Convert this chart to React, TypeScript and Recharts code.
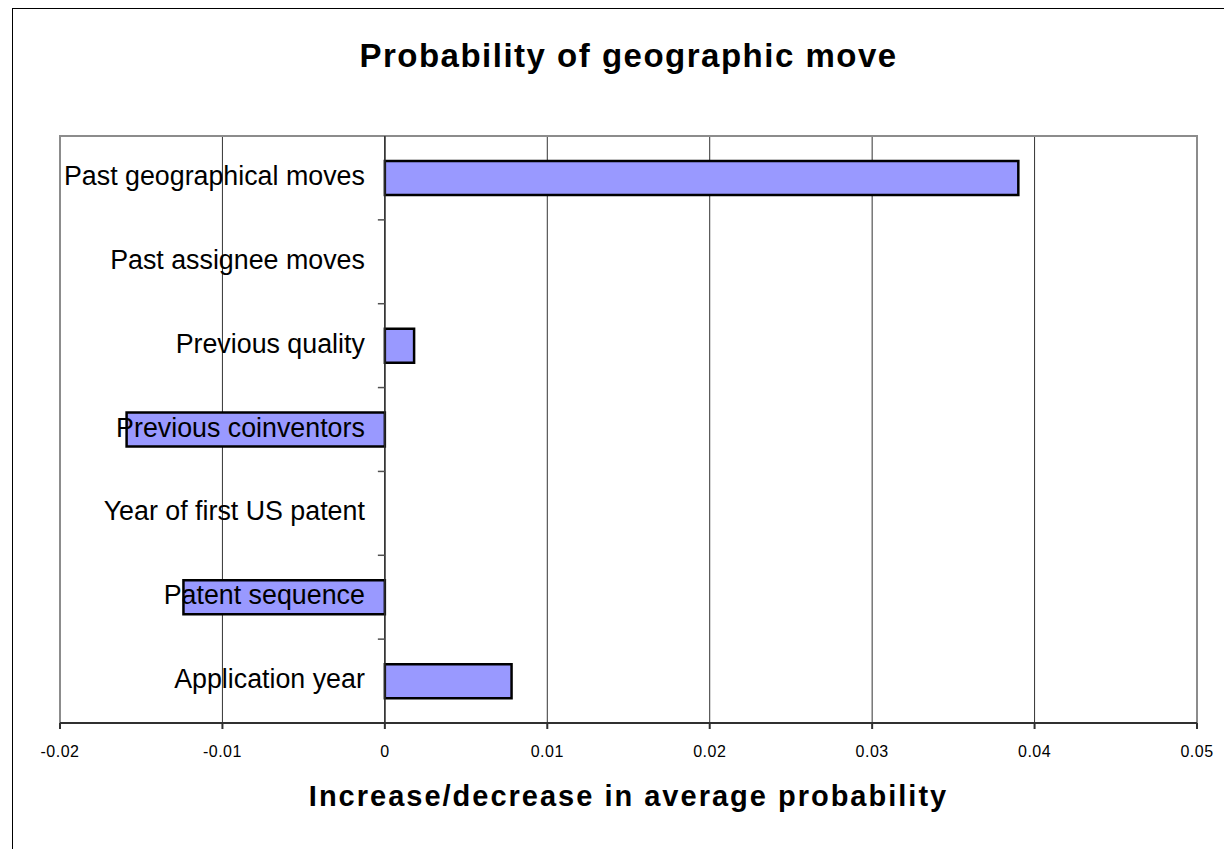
import React from 'react';
import {
    BarChart,
    Bar,
    XAxis,
    YAxis,
    CartesianGrid,
    ReferenceLine,
    ReferenceArea,
    Label,
} from 'recharts';

const categories = [
    'Past geographical moves',
    'Past assignee moves',
    'Previous quality',
    'Previous coinventors',
    'Year of first US patent',
    'Patent sequence',
    'Application year',
];
const changes = [0.039, 0, 0.0018, -0.0159, 0, -0.0124, 0.0078];
const xTicks = [-0.02, -0.01, 0, 0.01, 0.02, 0.03, 0.04, 0.05];

const data = categories.map((name, i) => ({ name, value: changes[i] }));

const FONT = "'Liberation Sans', Arial, sans-serif";
const CHART_W = 1211;
const CHART_H = 840;
const Y_AXIS_W = 1;
const MARGIN = { top: 127, right: 27, left: 46, bottom: 0 };
const X_AXIS_H = 126;
const X_MIN = xTicks[0];
const X_MAX = xTicks[xTicks.length - 1];

const plotLeft = MARGIN.left + Y_AXIS_W;
const plotW = CHART_W - plotLeft - MARGIN.right;
const plotH = CHART_H - MARGIN.top - MARGIN.bottom - X_AXIS_H;
const zeroX = plotLeft + ((0 - X_MIN) / (X_MAX - X_MIN)) * plotW;
const band = plotH / categories.length;

// category labels sit left of the zero line, like Excel does it
const renderCategoryTick = (props: any) => {
    const { y, payload, index } = props;
    return (
        <g key={`cat-${index}`}>
            <text
                x={zeroX - 20}
                y={y + 7}
                textAnchor="end"
                fontSize={26.8}
                fontFamily={FONT}
                fill="#000"
            >
                {payload.value}
            </text>
            {index < categories.length - 1 && (
                <line
                    x1={zeroX - 7}
                    x2={zeroX}
                    y1={y + band / 2}
                    y2={y + band / 2}
                    stroke="#505050"
                    strokeWidth={1.5}
                />
            )}
        </g>
    );
};

export default function App() {
    return (
        <div
            style={{
                position: 'fixed',
                left: 12,
                top: 8,
                width: 1212,
                height: 841,
                borderLeft: '1px solid #000',
                borderTop: '1px solid #000',
                boxSizing: 'border-box',
                background: '#fff',
            }}
        >
            <div
                style={{
                    position: 'absolute',
                    left: plotLeft,
                    top: 30,
                    width: plotW,
                    textAlign: 'center',
                    fontFamily: FONT,
                    fontWeight: 'bold',
                    fontSize: 33,
                    lineHeight: '33px',
                    letterSpacing: 1.5,
                    color: '#000',
                }}
            >
                Probability of geographic move
            </div>
            <div style={{ position: 'absolute', left: 0, top: 0 }}>
                <BarChart
                    width={CHART_W}
                    height={CHART_H}
                    data={data}
                    layout="vertical"
                    margin={MARGIN}
                >
                    <CartesianGrid horizontal={false} stroke="#333333" strokeWidth={1} />
                    <XAxis
                        type="number"
                        domain={[X_MIN, X_MAX]}
                        ticks={xTicks}
                        interval={0}
                        height={X_AXIS_H}
                        stroke="#303030"
                        strokeWidth={2}
                        tickSize={6}
                        tickMargin={17}
                        tick={{ fontSize: 16, fill: '#000', fontFamily: FONT, letterSpacing: 0.5 }}
                    >
                        <Label
                            value="Increase/decrease in average probability"
                            position="insideBottom"
                            offset={43}
                            fontSize={29}
                            fontWeight="bold"
                            fontFamily={FONT}
                            fill="#000"
                            letterSpacing={2}
                        />
                    </XAxis>
                    <YAxis
                        type="category"
                        dataKey="name"
                        width={Y_AXIS_W}
                        axisLine={false}
                        tickLine={false}
                        interval={0}
                        tick={renderCategoryTick}
                    />
                    <ReferenceArea
                        x1={X_MIN}
                        x2={X_MAX}
                        fill="none"
                        stroke="#8c8c8c"
                        strokeWidth={2}
                    />
                    <Bar
                        dataKey="value"
                        fill="#9999FF"
                        stroke="#000"
                        strokeWidth={2.5}
                        barSize={34}
                        isAnimationActive={false}
                    />
                    <ReferenceLine x={0} stroke="#303030" strokeWidth={1.5} />
                </BarChart>
            </div>
        </div>
    );
}
